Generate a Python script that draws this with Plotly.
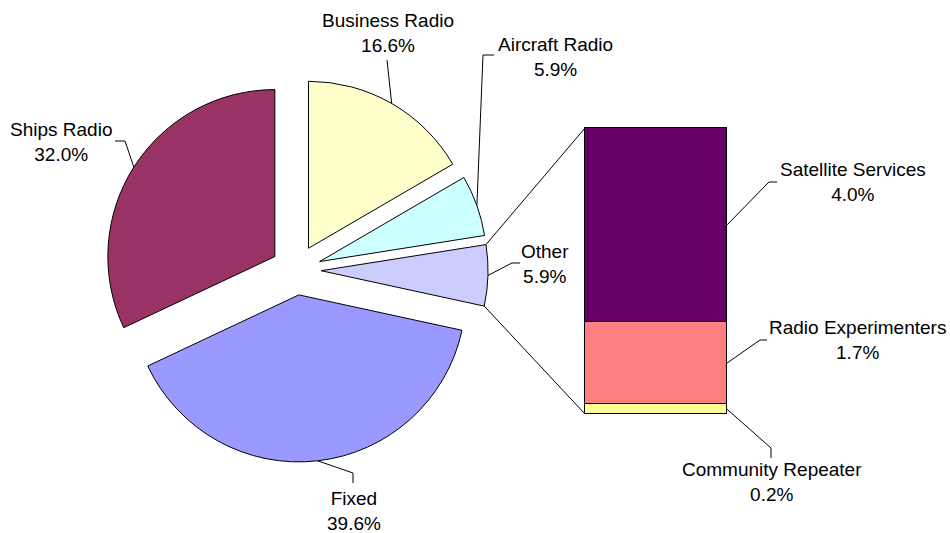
import math
import plotly.graph_objects as go

W, H = 950, 533

# ---------------- data ----------------
pie_labels = ["Business Radio", "Aircraft Radio", "Other", "Fixed", "Ships Radio"]
pie_values = [16.6, 5.9, 5.9, 39.6, 32.0]
pie_colors = ["#FFFFCC", "#CCFFFF", "#CCCCFF", "#9999FF", "#993366"]

bar_labels = ["Community Repeater", "Radio Experimenters", "Satellite Services"]
bar_values = [0.2, 1.7, 4.0]
bar_colors = ["#FFFF99", "#FF8080", "#660066"]

OTHER = "Other"

# ---------------- layout geometry (pixels) ----------------
PIE_CX, PIE_CY = 296, 270
PIE_R = 167
PULL = 0.15
BAR_X0, BAR_X1 = 585, 727
BAR_TOP, BAR_BOT = 128, 414
PAD = 3

FONT = dict(family="Liberation Sans, Arial, sans-serif", size=19, color="black")


def px(x):
    return x / W


def py(y):
    return 1 - y / H


def unit(deg):
    r = math.radians(deg)
    return math.sin(r), -math.cos(r)


total = sum(pie_values)
angles = []
cum = 0
for v in pie_values:
    a0 = cum / total * 360
    cum += v
    a1 = cum / total * 360
    angles.append((a0, a1))


def slice_point(i, ang, rad):
    a0, a1 = angles[i]
    mid = (a0 + a1) / 2
    ux, uy = unit(mid)
    vx, vy = unit(ang)
    return (PIE_CX + PULL * PIE_R * ux + rad * vx,
            PIE_CY + PULL * PIE_R * uy + rad * vy)


bar_total = sum(bar_values)
bar_scale = (BAR_BOT - BAR_TOP) / bar_total


def bar_y(v):
    return BAR_BOT - v * bar_scale


fig = go.Figure()

half = PIE_R * (1 + PULL)
fig.add_trace(go.Pie(
    labels=pie_labels, values=pie_values, sort=False, direction="clockwise",
    rotation=0, pull=[PULL] * len(pie_values), textinfo="none",
    marker=dict(colors=pie_colors, line=dict(color="black", width=1)),
    domain=dict(x=[px(PIE_CX - half), px(PIE_CX + half)],
                y=[py(PIE_CY + half), py(PIE_CY - half)]),
    showlegend=False, hoverinfo="label+percent",
))

for lab, v, c in zip(bar_labels, bar_values, bar_colors):
    fig.add_trace(go.Bar(
        x=[0], y=[v], name=lab, width=1,
        marker=dict(color=c, line=dict(color="black", width=1)),
        showlegend=False, xaxis="x", yaxis="y",
    ))

bw = BAR_X1 - BAR_X0
fig.update_layout(
    width=W, height=H, margin=dict(l=0, r=0, t=0, b=0),
    paper_bgcolor="white", plot_bgcolor="rgba(0,0,0,0)",
    barmode="stack", bargap=0,
    xaxis=dict(domain=[px(BAR_X0 - PAD), px(BAR_X1 + PAD)],
               range=[-0.5 - PAD / bw, 0.5 + PAD / bw], visible=False, fixedrange=True),
    yaxis=dict(domain=[py(BAR_BOT + PAD), py(BAR_TOP - PAD)],
               range=[-PAD / bar_scale, bar_total + PAD / bar_scale], visible=False, fixedrange=True),
    font=FONT,
)

shapes = []


def line_path(points):
    d = "M " + " L ".join(f"{px(x):.5f},{py(y):.5f}" for x, y in points)
    return dict(type="path", xref="paper", yref="paper", path=d,
                line=dict(color="black", width=1))


# connector lines from "Other" slice to bar
oi = pie_labels.index(OTHER)
c_top = slice_point(oi, angles[oi][0], PIE_R)
c_bot = slice_point(oi, angles[oi][1], PIE_R)
shapes.append(line_path([c_top, (BAR_X0, BAR_TOP)]))
shapes.append(line_path([c_bot, (BAR_X0, BAR_BOT)]))

# label placements (pixels): text centre, elbow, end near text
pie_label_pos = {
    "Business Radio": ((388, 33), (387, 60), (387, 60)),
    "Aircraft Radio": ((555, 57), (483, 55), (494, 55)),
    "Other": ((545, 264), (512, 263), (520, 263)),
    "Fixed": ((354, 511), (353, 473), (353, 483)),
    "Ships Radio": ((61, 142), (125, 141), (115, 141)),
}
bar_label_pos = {
    "Satellite Services": ((853, 182), (769, 182), (777, 182)),
    "Radio Experimenters": ((857, 340), (760, 340), (767, 340)),
    "Community Repeater": ((772, 482), (771, 448), (771, 458)),
}

annotations = []
for i, (lab, v) in enumerate(zip(pie_labels, pie_values)):
    a0, a1 = angles[i]
    anchor = slice_point(i, (a0 + a1) / 2, PIE_R)
    (tx, ty), elbow, end = pie_label_pos[lab]
    shapes.append(line_path([anchor, elbow, end]))
    annotations.append(dict(x=px(tx), y=py(ty), xref="paper", yref="paper",
                            text=f"{lab}<br>{v / total * 100:.1f}%", showarrow=False,
                            xanchor="center", yanchor="middle", font=FONT))

cum = 0
for lab, v in zip(bar_labels, bar_values):
    anchor = (BAR_X1, bar_y(cum + v / 2))
    cum += v
    (tx, ty), elbow, end = bar_label_pos[lab]
    shapes.append(line_path([anchor, elbow, end]))
    annotations.append(dict(x=px(tx), y=py(ty), xref="paper", yref="paper",
                            text=f"{lab}<br>{v:.1f}%", showarrow=False,
                            xanchor="center", yanchor="middle", font=FONT))

fig.update_layout(shapes=shapes, annotations=annotations)

fig.write_html("out.html")
